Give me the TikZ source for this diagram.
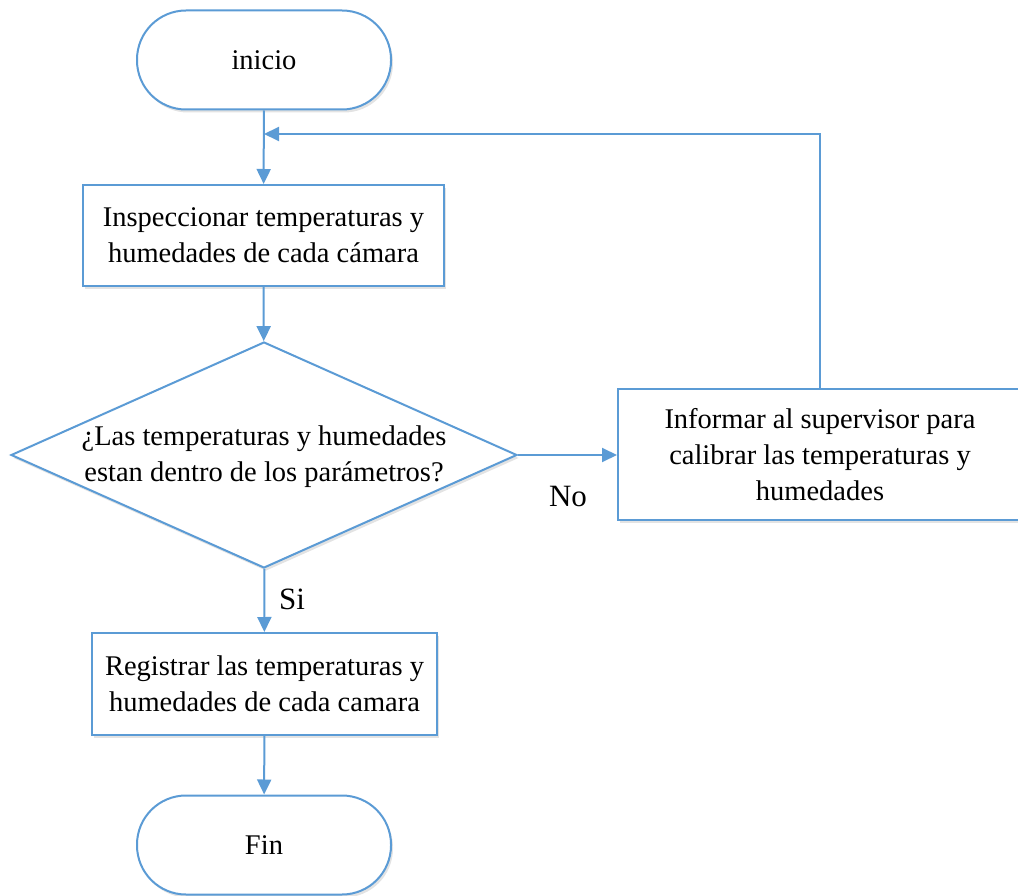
\documentclass[tikz,border=0pt]{standalone}
\usepackage{fontspec}
\setmainfont{Liberation Serif}
\usetikzlibrary{shapes.geometric,arrows.meta,shadows}
\definecolor{fblue}{HTML}{5B9BD5}
\tikzset{
  base/.style={draw=fblue, line width=2pt, fill=white, inner sep=0pt,
    drop shadow={opacity=0.22, shadow xshift=2pt, shadow yshift=-3pt},
    font=\fontsize{28.5}{36}\selectfont, align=center},
  term/.style={base, rectangle, rounded corners=49pt, minimum width=254pt, minimum height=99pt},
  proc/.style={base, rectangle},
  dec/.style={base, diamond, minimum width=506pt, minimum height=226pt},
  txt/.style={font=\fontsize{28.5}{36}\selectfont, align=center, inner sep=0pt},
  lbl/.style={font=\fontsize{31}{36}\selectfont, inner sep=0pt},
  arr/.style={draw=fblue, line width=2pt, -{Triangle[length=15pt,width=14pt]}}
}
\begin{document}
\begin{tikzpicture}[x=1pt,y=-1pt]
\useasboundingbox (0,0) rectangle (1018,896);
\clip (0,0) rectangle (1018,896);
\node[term] (ini) at (264,60) {inicio};
\node[proc, minimum width=361pt, minimum height=101pt] (insp) at (263.5,235.5) {Inspeccionar temperaturas y\\humedades de cada cámara};
\node[dec] (dec) at (264,455) {};
\node[txt] (dtxt) at (264,457) {¿Las temperaturas y humedades\\estan dentro de los parámetros?};
\node[proc, minimum width=404pt, minimum height=131pt] (inf) at (820,454.5) {Informar al supervisor para\\calibrar las temperaturas y\\humedades};
\node[proc, minimum width=345pt, minimum height=102pt] (reg) at (264.5,684) {Registrar las temperaturas y\\humedades de cada camara};
\node[term] (fin) at (264,845) {Fin};
\coordinate (loop) at (264,134);
\draw[arr] (ini) -- (insp);
\draw[arr] (insp) -- (dec);
\draw[arr] (dec.east) -- (inf.west |- dec.east);
\draw[arr] (dec) -- (reg);
\draw[arr] (reg) -- (fin);
\draw[arr] (inf.north) |- (loop);
\node[lbl] (no) at (568,497) {No};
\node[lbl] (si) at (292,599) {Si};
\end{tikzpicture}
\end{document}
